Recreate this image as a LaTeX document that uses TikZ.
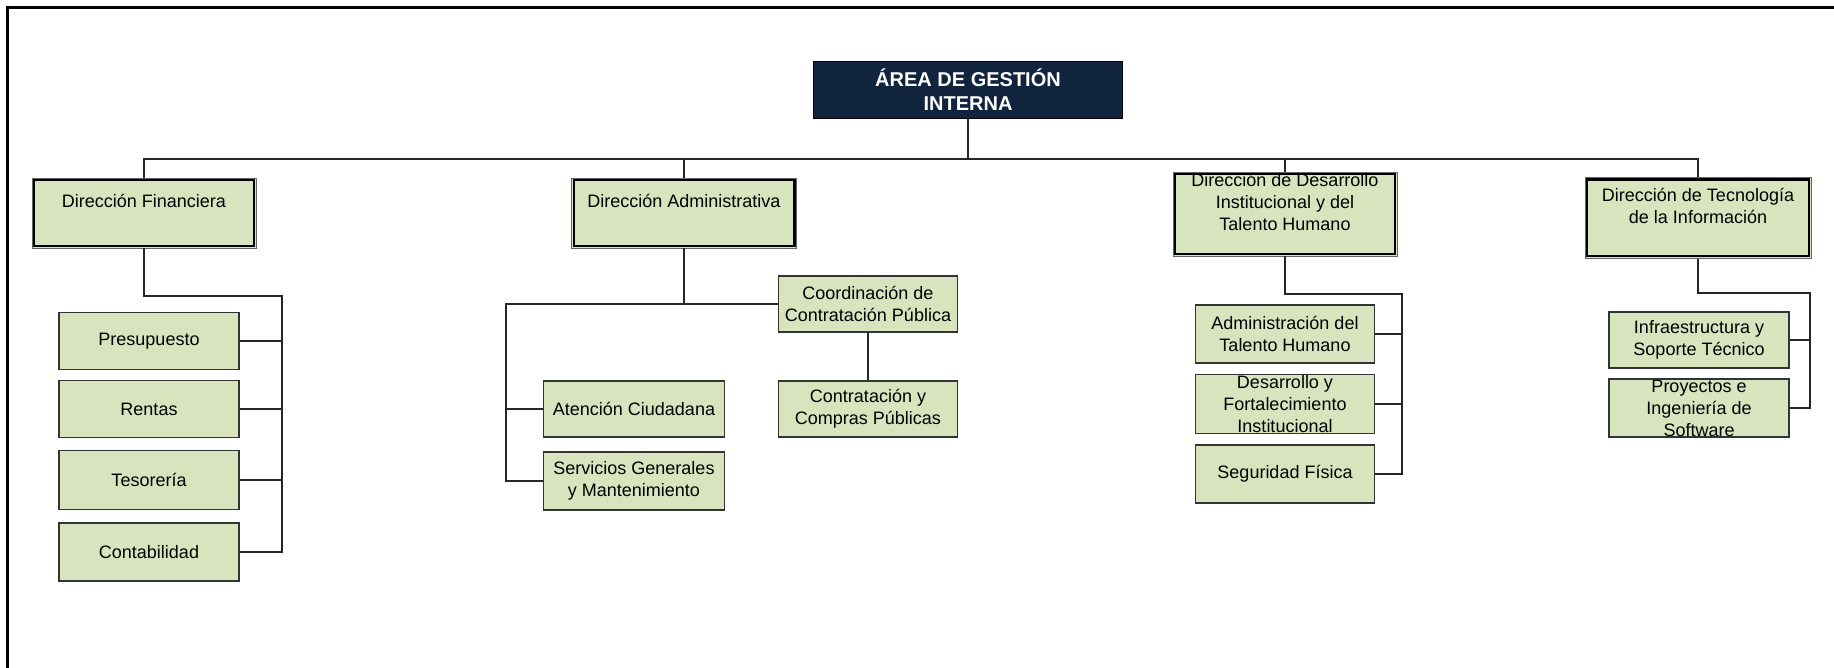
\documentclass[tikz,border=0pt]{standalone}
\usepackage{fontspec}
\setmainfont{Liberation Sans}
\definecolor{boxgreen}{RGB}{215,228,189}
\definecolor{navy}{RGB}{16,36,62}
\newcommand{\txtfont}{\fontsize{18}{22}\selectfont}
\tikzset{
  conn/.style={draw=black!85, line width=1.8pt},
  subbox/.style={draw=black!80, line width=1.8pt, fill=boxgreen, minimum width=180pt,
    minimum height=57pt, inner sep=0pt, align=center, font=\txtfont, text=black},
  cliptext/.style={path picture={\node[font=\txtfont, align=center, text=black, inner sep=0pt]
    at (path picture bounding box.center) {#1};}},
  dirbox/.style={draw=black!60, line width=0.8pt, fill=boxgreen, inner sep=0pt,
    minimum width=224pt},
  dirtext/.style={path picture={\node[font=\txtfont, align=center, text=black, inner sep=0pt]
    at ([yshift=12pt]path picture bounding box.center) {#1};}},
  innerframe/.style={draw=black, line width=2.4pt},
  topbox/.style={draw=black, line width=1.8pt, fill=navy, text=white, inner sep=0pt,
    minimum width=309pt, minimum height=57pt, align=center,
    font=\fontsize{20}{24}\selectfont\bfseries}
}
\begin{document}
\begin{tikzpicture}[x=1pt,y=-1pt]
\useasboundingbox (0,0) rectangle (1834,668);
\draw[line width=3pt] (7,668) -- (7,8) -- (1834,8);

% top
\node[topbox] (top) at (968,90) {ÁREA DE GESTIÓN\\INTERNA};

% direcciones
\node[dirbox, minimum height=70pt, dirtext={Dirección Financiera}] (fin) at (144,213) {};
\node[dirbox, minimum width=225pt, minimum height=70pt, dirtext={Dirección Administrativa}] (adm) at (684,213) {};
\node[dirbox, minimum height=84pt, dirtext={Dirección de Desarrollo\\Institucional y del\\Talento Humano}] (di) at (1285,214) {};
\node[dirbox, minimum width=226pt, minimum height=81pt, dirtext={Dirección de Tecnología\\de la Información}] (ti) at (1698,218) {};
\foreach \n in {fin,adm,di,ti}
  \draw[innerframe] ([shift={(2.6pt,-2.6pt)}]\n.north west) rectangle ([shift={(-2.6pt,2.6pt)}]\n.south east);

% financiera
\node[subbox] (pres) at (149,341) {Presupuesto};
\node[subbox] (rent) at (149,409) {Rentas};
\node[subbox, minimum height=59pt] (teso) at (149,480) {Tesorería};
\node[subbox, minimum height=58pt] (cont) at (149,552) {Contabilidad};

% administrativa
\node[subbox, minimum width=179pt, minimum height=56pt] (coord) at (868,304) {Coordinación de\\Contratación Pública};
\node[subbox, minimum width=179pt, minimum height=56pt] (contr) at (868,409) {Contratación y\\Compras Públicas};
\node[subbox, minimum width=181pt, minimum height=56pt] (aten) at (634,409) {Atención Ciudadana};
\node[subbox, minimum width=181pt, minimum height=58pt] (serv) at (634,481) {Servicios Generales\\y Mantenimiento};

% desarrollo institucional
\node[subbox, minimum width=179pt, minimum height=58pt] (adth) at (1285,334) {Administración del\\Talento Humano};
\node[subbox, minimum width=179pt, minimum height=59pt, cliptext={Desarrollo y\\Fortalecimiento\\Institucional}] (desf) at (1285,404) {};
\node[subbox, minimum width=179pt, minimum height=58pt] (segf) at (1285,474) {Seguridad Física};

% tecnologia
\node[subbox, minimum height=56pt] (infr) at (1699,340) {Infraestructura y\\Soporte Técnico};
\node[subbox, minimum height=58pt, cliptext={Proyectos e\\Ingeniería de\\Software}] (proy) at (1699,408) {};

% bus
\coordinate (bus) at (0,159);
\draw[conn] (top.south) -- (top.south |- bus);
\draw[conn] (fin.north) -- (fin.north |- bus) -| (ti.north);
\draw[conn] (adm.north) -- (adm.north |- bus);
\draw[conn] (di.north) -- (di.north |- bus);

% financiera connectors
\coordinate (finbus) at (282,296);
\draw[conn] (fin.south) |- (finbus) -- (finbus |- cont.east) -- (cont.east);
\foreach \n in {pres,rent,teso}
  \draw[conn] (\n.east) -- (\n.east -| finbus);

% administrativa connectors
\coordinate (admL) at (506,303);
\draw[conn] (adm.south) |- (coord.west);
\draw[conn] (adm.south |- coord.west) -- (admL |- coord.west) -- (admL |- serv.west) -- (serv.west);
\draw[conn] (aten.west) -- (aten.west -| admL);
\draw[conn] (coord.south) -- (contr.north);

% desarrollo connectors
\coordinate (dibus) at (1402,294);
\draw[conn] (di.south) |- (dibus) -- (dibus |- segf.east) -- (segf.east);
\foreach \n in {adth,desf}
  \draw[conn] (\n.east) -- (\n.east -| dibus);

% tecnologia connectors
\coordinate (tibus) at (1810,293);
\draw[conn] (ti.south) |- (tibus) -- (tibus |- proy.east) -- (proy.east);
\draw[conn] (infr.east) -- (infr.east -| tibus);
\end{tikzpicture}
\end{document}
